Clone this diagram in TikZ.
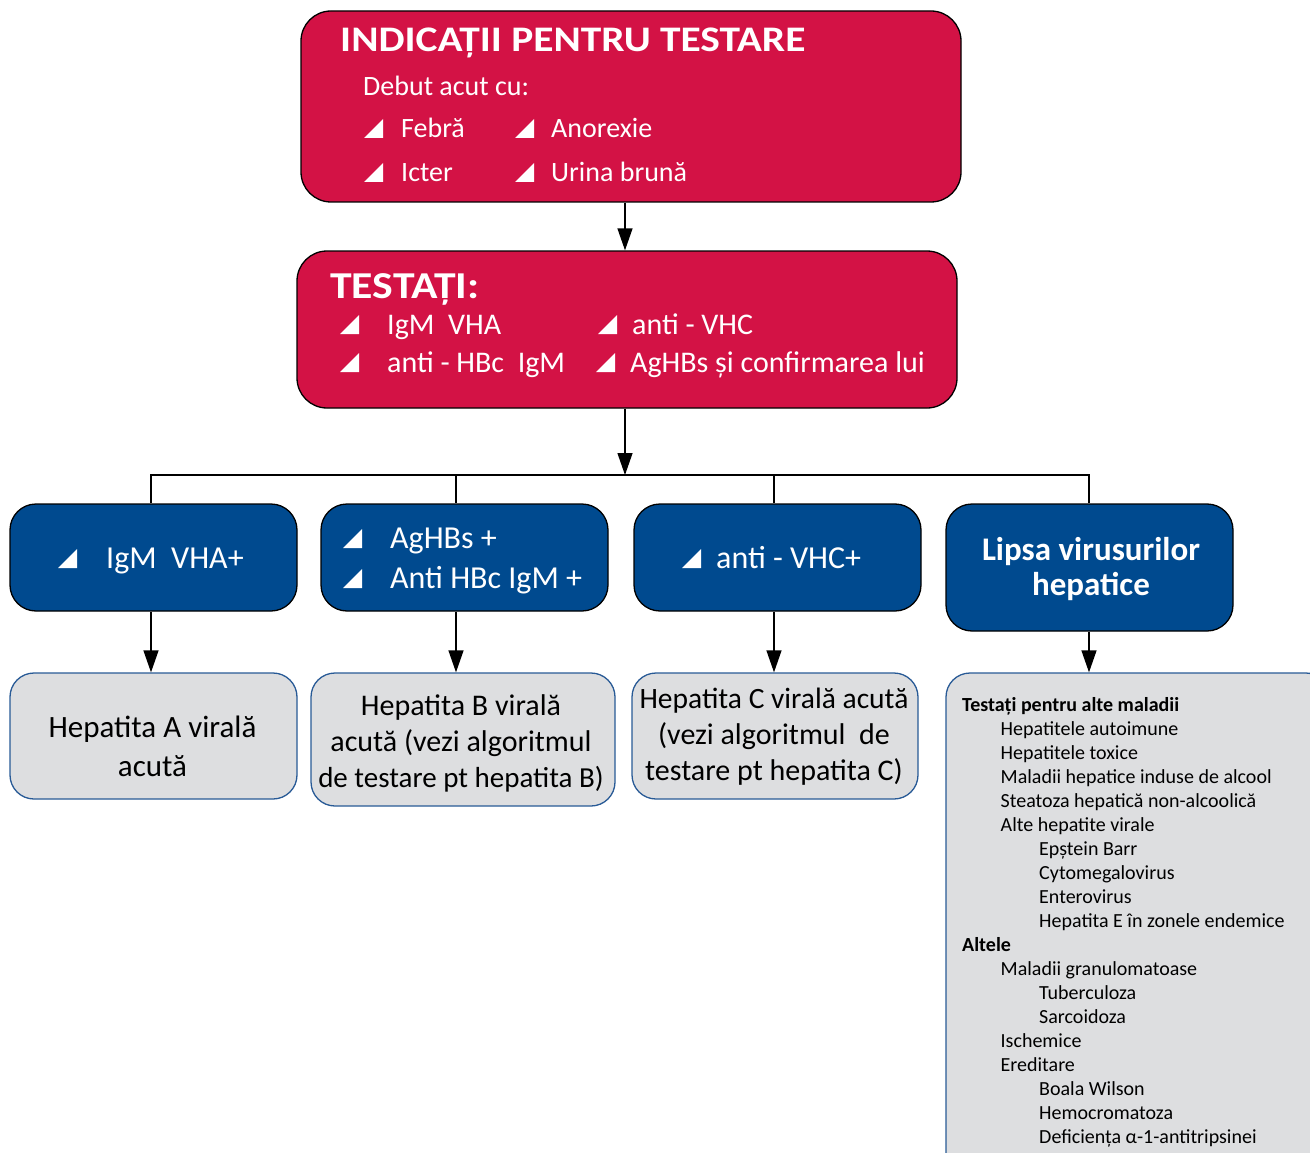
\documentclass[tikz,border=0pt]{standalone}
\usepackage{fontspec}
\usepackage{graphicx}
\setmainfont{Carlito}
\usetikzlibrary{arrows.meta}
\definecolor{cRed}{RGB}{211,18,69}
\definecolor{cBlue}{RGB}{0,74,143}
\definecolor{cGray}{RGB}{221,222,224}
\definecolor{cEdge}{RGB}{40,90,150}
% white right-angled bullet, resting on the baseline
\newcommand\tri{\tikz[baseline=0pt,x=1pt,y=1pt]\fill[white](0,0)--(19,0)--(19,19)--cycle;}
\newcommand\fs[1]{\fontsize{#1}{#1}\selectfont}
% wide bold headings
\newcommand\widehead[2]{\scalebox{1.15}[1]{\fs{#1}\bfseries #2}}
\begin{document}
\begin{tikzpicture}[x=1pt,y=-1pt,
  redbox/.style={draw=black,line width=1.3pt,fill=cRed,rounded corners=30pt,inner sep=0pt},
  bluebox/.style={draw=black,line width=1.3pt,fill=cBlue,rounded corners=26pt,inner sep=0pt},
  graybox/.style={draw=cEdge,line width=1.3pt,fill=cGray,rounded corners=24pt,inner sep=0pt},
  wtxt/.style={anchor=base west,inner sep=0pt,text=white},
  wctr/.style={anchor=base,inner sep=0pt,text=white},
  btxt/.style={anchor=base,inner sep=0pt,text=black},
  ltxt/.style={anchor=base west,inner sep=0pt,text=black},
  conn/.style={line width=1.3pt},
  arr/.style={line width=1.3pt,-{Triangle[length=22pt,width=15pt]}}]
\useasboundingbox (0,0) rectangle (1310,1153);
\clip (0,0) rectangle (1310,1153);

% ---- indications
\node[redbox,minimum width=660pt,minimum height=191pt] (ind) at (631,106.5) {};
\node[wtxt] (indT) at (340,52) {\widehead{36}{INDICAȚII PENTRU TESTARE}};
\node[wtxt] (deb) at (363,96) {\fs{28}Debut acut cu:};
\node[wtxt] (feb) at (364,138) {\fs{28}\tri\hspace{18pt}Febră};
\node[wtxt] (ano) at (515,138) {\fs{28}\tri\hspace{17pt}Anorexie};
\node[wtxt] (ict) at (364,182) {\fs{28}\tri\hspace{18pt}Icter};
\node[wtxt] (uri) at (515,182) {\fs{28}\tri\hspace{17pt}Urina brună};

% ---- tests
\node[redbox,minimum width=660pt,minimum height=157pt] (tst) at (627,329.5) {};
\node[wtxt] (tstT) at (330,298) {\widehead{38}{TESTAȚI:}};
\node[wtxt] (t1) at (340,334) {\fs{30}\tri\hspace{28pt}IgM\ \ VHA};
\node[wtxt] (t2) at (598,334) {\fs{30}\tri\hspace{15pt}anti - VHC};
\node[wtxt] (t3) at (340,372) {\fs{30}\tri\hspace{28pt}anti - HBc\ \ IgM};
\node[wtxt] (t4) at (596,372) {\fs{30}\tri\hspace{15pt}AgHBs și confirmarea lui};

% ---- results
\node[bluebox,minimum width=287pt,minimum height=107pt] (b1) at (153.5,557.5) {};
\node[bluebox,minimum width=287pt,minimum height=107pt] (b2) at (464.5,557.5) {};
\node[bluebox,minimum width=287pt,minimum height=107pt] (b3) at (777.5,557.5) {};
\node[bluebox,minimum width=287pt,minimum height=127pt] (b4) at (1089.5,567.5) {};
\node[wtxt] (b1t) at (58,568) {\fs{32}\tri\hspace{29pt}IgM\ \ VHA+};
\node[wtxt] (b2t) at (343,548) {\fs{32}\tri\hspace{28pt}AgHBs +};
\node[wtxt] (b2u) at (343,588) {\fs{32}\tri\hspace{28pt}Anti HBc IgM +};
\node[wtxt] (b3t) at (682,568) {\fs{32}\tri\hspace{15pt}anti - VHC+};
\node[wctr] (b4t) at (1091,560) {\fs{33}\bfseries Lipsa virusurilor};
\node[wctr] (b4u) at (1091,595) {\fs{33}\bfseries hepatice};

% ---- diagnoses
\node[graybox,minimum width=287pt,minimum height=126pt] (g1) at (153.5,736) {};
\node[graybox,minimum width=304pt,minimum height=133pt] (g2) at (463,739.5) {};
\node[graybox,minimum width=286pt,minimum height=126pt] (g3) at (775,736) {};
\node[graybox,minimum width=384pt,minimum height=520pt] (g4) at (1138,933) {};
\node[btxt] (g1a) at (152.5,737) {\fs{31}Hepatita A virală};
\node[btxt] (g1b) at (152.5,776) {\fs{31}acută};
\node[btxt] (g2a) at (461,715) {\fs{30}Hepatita B virală};
\node[btxt] (g2b) at (461,751) {\fs{30}acută (vezi algoritmul};
\node[btxt] (g2c) at (461,787) {\fs{29}de testare pt hepatita B)};
\node[btxt] (g3a) at (774,708) {\fs{29.5}Hepatita C virală acută};
\node[btxt] (g3b) at (774,744) {\fs{30}(vezi algoritmul\ \ de};
\node[btxt] (g3c) at (774,780) {\fs{30}testare pt hepatita C)};

\foreach \lvl/\txt [count=\i] in {
  0/\textbf{Testați pentru alte maladii},
  1/Hepatitele autoimune,
  1/Hepatitele toxice,
  1/Maladii hepatice induse de alcool,
  1/Steatoza hepatică non-alcoolică,
  1/Alte hepatite virale,
  2/Epștein Barr,
  2/Cytomegalovirus,
  2/Enterovirus,
  2/Hepatita E în zonele endemice,
  0/\textbf{Altele},
  1/Maladii granulomatoase,
  2/Tuberculoza,
  2/Sarcoidoza,
  1/Ischemice,
  1/Ereditare,
  2/Boala Wilson,
  2/Hemocromatoza,
  2/Deficiența α-1-antitripsinei}
  \node[ltxt] (li\i) at ({962+38.5*\lvl},{711+24*(\i-1)}) {\fs{20}\txt};

% ---- connectors
\coordinate (sp) at (625,0);
\coordinate (bus) at (0,475);
\coordinate (c1) at (151,0);
\coordinate (c2) at (456,0);
\coordinate (c3) at (774,0);
\coordinate (c4) at (1089,0);
\draw[arr] (sp |- ind.south) -- (sp |- tst.north);
\draw[arr] (sp |- tst.south) -- (sp |- bus);
\draw[conn] (c1 |- b1.north) -- (c1 |- bus) -- (c4 |- bus) -- (c4 |- b4.north);
\draw[conn] (c2 |- bus) -- (c2 |- b2.north);
\draw[conn] (c3 |- bus) -- (c3 |- b3.north);
\draw[arr] (c1 |- b1.south) -- (c1 |- g1.north);
\draw[arr] (c2 |- b2.south) -- (c2 |- g2.north);
\draw[arr] (c3 |- b3.south) -- (c3 |- g3.north);
\draw[arr] (c4 |- b4.south) -- (c4 |- g4.north);
\end{tikzpicture}
\end{document}
